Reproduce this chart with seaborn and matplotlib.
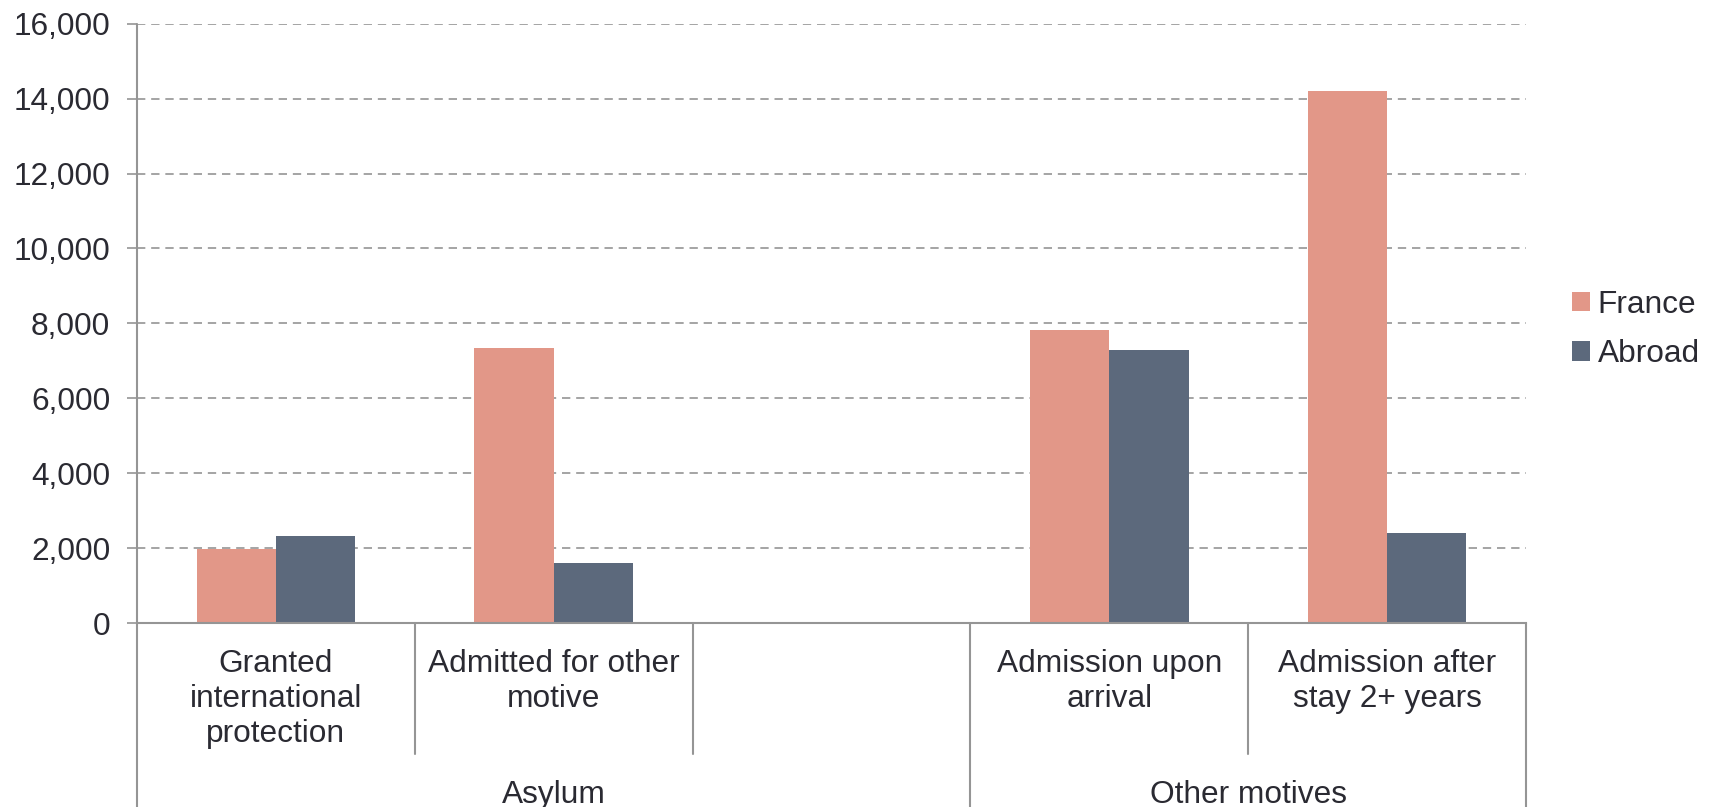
import matplotlib
matplotlib.use("Agg")
import matplotlib.pyplot as plt
import matplotlib.transforms as mtransforms
from matplotlib.lines import Line2D
import seaborn as sns
import pandas as pd
import numpy as np

# ---- data ----
categories = ["Granted\ninternational\nprotection", "Admitted for other\nmotive", "",
              "Admission upon\narrival", "Admission after\nstay 2+ years"]
data_categories = ["Granted\ninternational\nprotection", "Admitted for other\nmotive",
                   "Admission upon\narrival", "Admission after\nstay 2+ years"]
france = [1980, 7350, 7820, 14200]
abroad = [2330, 1590, 7280, 2410]
series = ["France", "Abroad"]
groups = ["Asylum", "Other motives"]
group_spans = [(0, 2), (3, 4)]  # category index ranges (inclusive) for each group
y_ticks = [0, 2000, 4000, 6000, 8000, 10000, 12000, 14000, 16000]

colors = {"France": "#E29788", "Abroad": "#5C697C"}
text_color = "#2A2A32"
line_color = "#959595"
FS = 22.8

df = pd.DataFrame({
    "category": data_categories * 2,
    "series": ["France"] * len(france) + ["Abroad"] * len(abroad),
    "value": france + abroad,
})

sns.set_theme(style="white")
plt.rcParams["font.family"] = ["Liberation Sans", "DejaVu Sans"]

fig = plt.figure(figsize=(17.1, 8.07), dpi=100)
ax = fig.add_axes([0.0801, 0.228, 0.8123, 0.7426])

sns.barplot(data=df, x="category", y="value", hue="series", order=categories,
            hue_order=series, palette=colors, width=0.571, saturation=1,
            edgecolor="none", linewidth=0, ax=ax, legend=True)

ax.set_xlim(-0.5, len(categories) - 0.5)
ax.set_ylim(0, 16000)
ax.set_yticks(y_ticks)
ax.set_yticklabels([f"{v:,}" for v in y_ticks], fontsize=FS, color=text_color)
ax.tick_params(axis="y", which="major", length=7.2, width=1.2, color=line_color,
               pad=12, left=True)
ax.set_xticks([])
ax.set_xlabel("")
ax.set_ylabel("")
ax.yaxis.grid(True, linestyle=(0, (5, 3.5)), color=line_color, linewidth=1.2)
ax.set_axisbelow(True)
for s in ["top", "right"]:
    ax.spines[s].set_visible(False)
ax.spines["bottom"].set_color(line_color)
ax.spines["bottom"].set_linewidth(1.5)
ax.spines["left"].set_visible(False)

# hierarchical axis decorations
trans = mtransforms.blended_transform_factory(ax.transData, ax.transAxes)
ax_h_px = 0.7426 * 807
fig_bottom_axes = -0.228 * 807 / ax_h_px
cat_div_bottom = -(754 - 623) / ax_h_px

n = len(categories)
group_bounds = set()
for g0, g1 in group_spans:
    group_bounds.add(g0 - 0.5)
    group_bounds.add(g1 + 0.5)
for i in range(n + 1):
    xb = i - 0.5
    if xb in group_bounds:
        y0 = fig_bottom_axes
        y1 = 1.0 if i == 0 else 0.0
    else:
        y0 = cat_div_bottom
        y1 = 0.0
    ax.add_line(Line2D([xb, xb], [y0, y1], transform=trans, color=line_color,
                       linewidth=1.5, clip_on=False))

for i, lab in enumerate(categories):
    if lab:
        ax.text(i, -0.043, lab, transform=trans, ha="center", va="top",
                fontsize=FS, color=text_color, linespacing=1.23, clip_on=False)

for g, (g0, g1) in zip(groups, group_spans):
    ax.text((g0 + g1) / 2, -(803 - 623) / ax_h_px, g, transform=trans,
            ha="center", va="baseline", fontsize=FS, color=text_color, clip_on=False)

# legend
leg = ax.legend(title=None, loc="center left", bbox_to_anchor=(1.024, 0.49),
                frameon=False, fontsize=FS, handlelength=0.56, handleheight=0.56,
                handletextpad=0.25, labelspacing=0.62, borderaxespad=0)
for t in leg.get_texts():
    t.set_color(text_color)

fig.savefig("out.png", dpi=100)
